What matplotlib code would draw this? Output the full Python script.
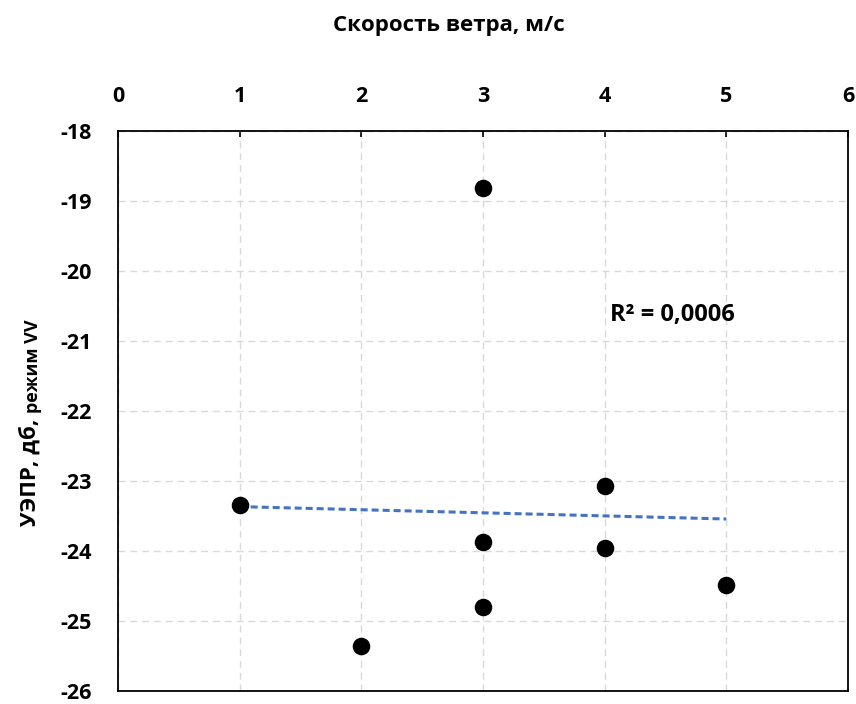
import matplotlib
matplotlib.use('Agg')
import matplotlib.pyplot as plt
import numpy as np

plt.rcParams['font.family'] = ['Open Sans', 'DejaVu Sans']
plt.rcParams['axes.unicode_minus'] = False

# Скорость ветра, м/с и УЭПР, дб
wind = [1, 2, 3, 3, 3, 4, 4, 5]
sigma = [-23.34, -25.36, -18.81, -23.87, -24.80, -23.07, -23.95, -24.48]
x_ticks = [0, 1, 2, 3, 4, 5, 6]
y_ticks = [-18, -19, -20, -21, -22, -23, -24, -25, -26]
r2_label = 'R² = 0,0006'

fig = plt.figure(figsize=(8.56, 7.04), dpi=100)
ax = fig.add_axes([118 / 856, 1 - 691 / 704, (848 - 118) / 856, (691 - 131) / 704])

# линейный тренд
k, b = np.polyfit(wind, sigma, 1)
xt = np.array([min(wind), max(wind)])
ax.plot(xt, k * xt + b, color='#4472C4', lw=2.2, ls=(0, (2.3, 1.3)), zorder=2)

ax.scatter(wind, sigma, s=135, color='black', zorder=3)

ax.set_xlim(0, 6)
ax.set_ylim(-26, -18)
ax.set_xticks(x_ticks)
ax.set_yticks(y_ticks)
ax.xaxis.tick_top()
ax.tick_params(axis='x', direction='in', length=4, width=1.2, pad=17, labelsize=15.5)
ax.tick_params(axis='y', length=0, pad=19, labelsize=15.5)
for lab in ax.get_xticklabels() + ax.get_yticklabels():
    lab.set_fontweight('bold')

ax.grid(True, color='#d9d9d9', lw=1.0, ls=(0, (5, 3.5)))
ax.set_axisbelow(True)
for sp in ax.spines.values():
    sp.set_color('black')
    sp.set_linewidth(1.3)

ax.text(4.04, -20.63, r2_label, fontsize=17, fontweight='bold', ha='left', va='center')

fig.text(449 / 856, 1 - 25 / 704, 'Скорость ветра, м/с', fontsize=16,
         fontweight='bold', ha='center', va='center')

# подпись оси Y из двух частей
renderer = fig.canvas.get_renderer()
t1 = fig.text(30 / 856, 1 - 526 / 704, 'УЭПР, дб,', fontsize=16, fontweight='bold',
              rotation=90, ha='center', va='bottom')
bb = t1.get_window_extent(renderer=renderer)
fig.text(33 / 856, (bb.y1 + 6) / 704, 'режим VV', fontsize=13, fontweight='bold',
         rotation=90, ha='center', va='bottom')

fig.savefig('out.png', dpi=100)
